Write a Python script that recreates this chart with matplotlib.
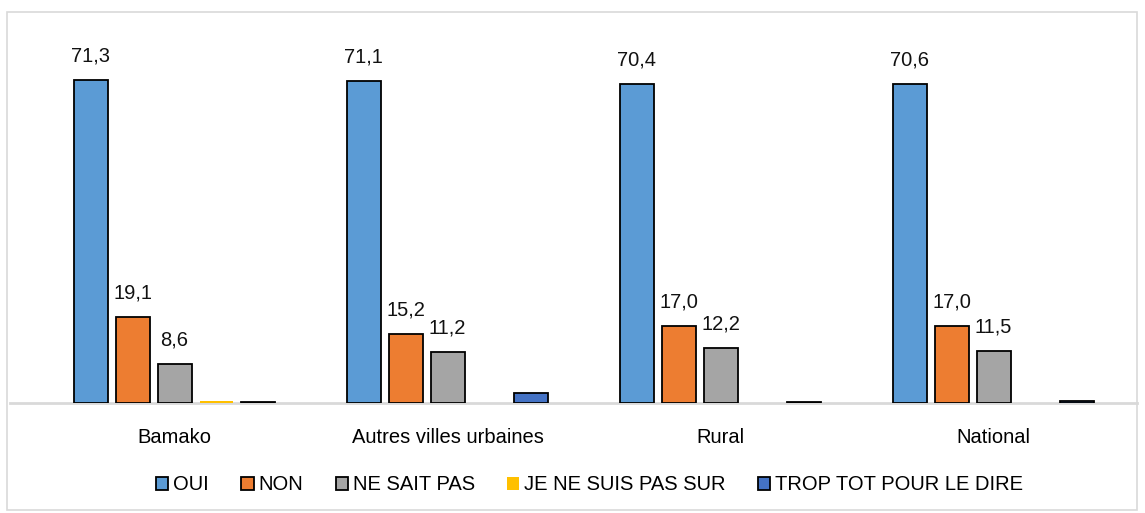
import matplotlib
matplotlib.use("Agg")
import matplotlib.pyplot as plt
import numpy as np
from matplotlib.patches import Rectangle, Patch

categories = ["Bamako", "Autres villes urbaines", "Rural", "National"]
series_names = ["OUI", "NON", "NE SAIT PAS", "JE NE SUIS PAS SUR", "TROP TOT POUR LE DIRE"]
oui = [71.3, 71.1, 70.4, 70.6]
non = [19.1, 15.2, 17.0, 17.0]
nsp = [8.6, 11.2, 12.2, 11.5]
pas_sur = [0.5, 0.0, 0.05, 0.1]
trop_tot = [0.3, 2.2, 0.3, 0.5]
labelled = [True, True, True, False, False]

colors = ["#5b9bd5", "#ed7d31", "#a5a5a5", "#ffc000", "#4472c4"]
edges = ["black", "black", "black", "none", "black"]

plt.rcParams['font.family'] = ['Liberation Sans', 'DejaVu Sans']

fig = plt.figure(figsize=(11.45, 5.13), dpi=100)
ax = fig.add_axes([10/1145, 110/513, 1127/1145, 362/513])

series = [oui, non, nsp, pas_sur, trop_tot]
x = np.arange(len(categories))
pitch = 0.1538
width = 0.1245
for i, (vals, c, ec, lab) in enumerate(zip(series, colors, edges, labelled)):
    pos = x + (i - 2) * pitch
    ax.bar(pos, vals, width=width, color=c, edgecolor=ec, linewidth=1.3,
           label=series_names[i], zorder=3)
    if lab:
        for p, v in zip(pos, vals):
            ax.text(p, v + 3.2, f"{v:.1f}".replace(".", ","), ha="center", va="bottom",
                    fontsize=14.5, color="#111111")

ax.set_xlim(-0.6026, 3.5256)
ax.set_ylim(0, 80)
ax.set_yticks([])
ax.set_xticks(x)
ax.set_xticklabels(categories, fontsize=14.5)
ax.tick_params(axis="x", length=0, pad=18)
for s in ["top", "right", "left"]:
    ax.spines[s].set_visible(False)
ax.spines["bottom"].set_color("#d9d9d9")
ax.spines["bottom"].set_linewidth(2)
ax.spines["bottom"].set_zorder(2)

handles = [Patch(facecolor=c, edgecolor=ec, linewidth=1.3) for c, ec in zip(colors, edges)]
leg = fig.legend(handles, series_names, loc="center", bbox_to_anchor=(0.515, 1 - 485/513),
                 ncol=5, frameon=False, fontsize=14.5, handlelength=0.6, handleheight=0.6,
                 handletextpad=0.25, columnspacing=1.6)

fig.patches.append(Rectangle((7/1145, 3/513), 1130/1145, 498/513, transform=fig.transFigure,
                             fill=False, edgecolor="#d9d9d9", linewidth=1.2))

fig.savefig("out.png", dpi=100)
